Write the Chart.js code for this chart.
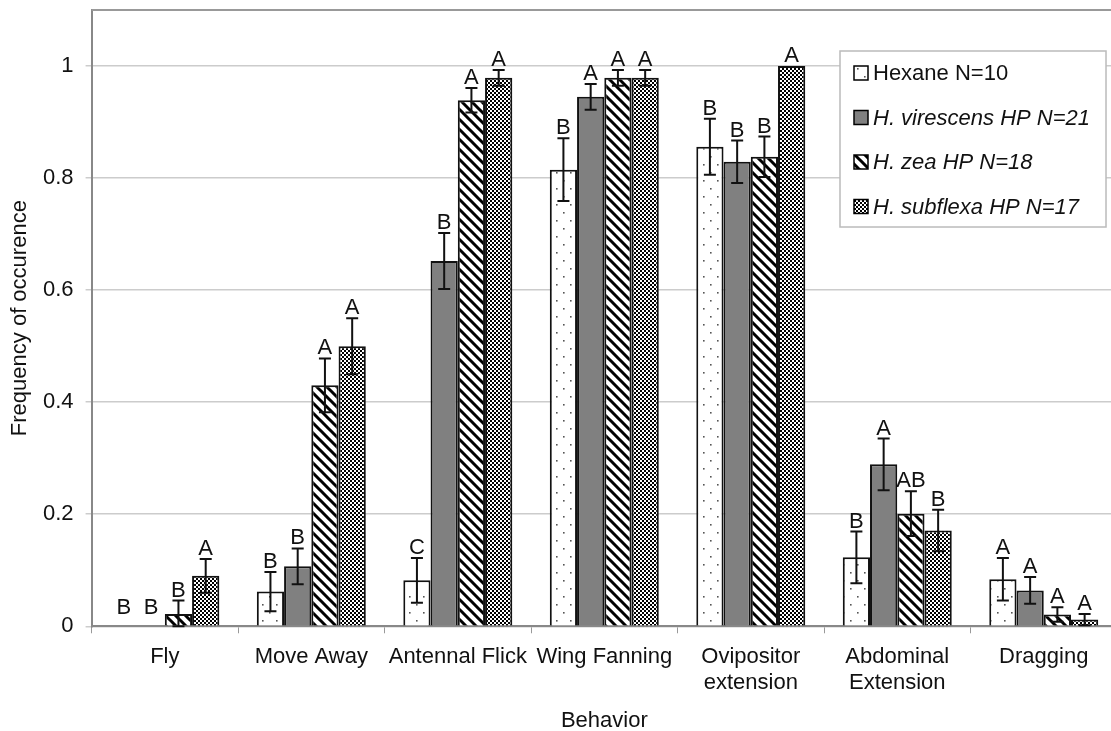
<!DOCTYPE html>
<html>
<head>
<meta charset="utf-8">
<script src="https://cdn.jsdelivr.net/npm/chart.js@4.4.1/dist/chart.umd.min.js"></script>
<style>
  html, body { margin: 0; padding: 0; background: #fff; overflow: hidden; width: 1111px; height: 731px; }
  #wrap { position: relative; width: 1120px; height: 734px; }
</style>
</head>
<body>
<div id="wrap"><canvas id="behaviorChart"></canvas></div>
<script>
// behaviour frequencies
const behaviors = ['Fly', 'Move Away', 'Antennal Flick', 'Wing Fanning', ['Ovipositor', 'extension'], ['Abdominal', 'Extension'], 'Dragging'];

const hexane = [0, 0.062, 0.082, 0.815, 0.856, 0.123, 0.084];
const hexaneErr = [0, 0.035, 0.04, 0.056, 0.05, 0.046, 0.038];
const hexaneLetters = ['B', 'B', 'C', 'B', 'B', 'B', 'A'];

const virescens = [0, 0.107, 0.652, 0.945, 0.829, 0.289, 0.064];
const virescensErr = [0, 0.032, 0.05, 0.023, 0.038, 0.046, 0.024];
const virescensLetters = ['B', 'B', 'B', 'A', 'B', 'A', 'A'];

const zea = [0.022, 0.43, 0.939, 0.979, 0.838, 0.201, 0.021];
const zeaErr = [0.024, 0.048, 0.022, 0.014, 0.036, 0.04, 0.013];
const zeaLetters = ['B', 'A', 'A', 'A', 'B', 'AB', 'A'];

const subflexa = [0.09, 0.5, 0.979, 0.979, 1.0, 0.171, 0.012];
const subflexaErr = [0.03, 0.05, 0.014, 0.014, 0, 0.037, 0.01];
const subflexaLetters = ['A', 'A', 'A', 'A', 'A', 'B', 'A'];

const seriesNames = ['Hexane N=10', 'H. virescens HP N=21', 'H. zea HP N=18', 'H. subflexa HP N=17'];
const seriesItalic = [false, true, true, true];

const FONT = "'Liberation Sans', Arial, sans-serif";

// fill patterns
function makePattern(kind) {
    const tile = document.createElement('canvas');
    const c = tile.getContext('2d');
    if (kind === 'dots') {
        tile.width = 14; tile.height = 16;
        c.fillStyle = '#fff'; c.fillRect(0, 0, 14, 16);
        c.fillStyle = '#555';
        c.fillRect(3, 4, 1.6, 1.6);
        c.fillRect(10, 12, 1.6, 1.6);
    } else if (kind === 'stripes') {
        tile.width = 10; tile.height = 10;
        c.fillStyle = '#fff'; c.fillRect(0, 0, 10, 10);
        c.strokeStyle = '#000'; c.lineWidth = 3;
        c.beginPath();
        c.moveTo(-5, -5); c.lineTo(15, 15);
        c.moveTo(-5, 5); c.lineTo(5, 15);
        c.moveTo(5, -5); c.lineTo(15, 5);
        c.stroke();
    } else {
        tile.width = 4; tile.height = 4;
        c.fillStyle = '#000'; c.fillRect(0, 0, 4, 4);
        c.fillStyle = '#fff';
        c.fillRect(0, 0, 2, 2);
        c.fillRect(2, 2, 2, 2);
    }
    return c.createPattern(tile, 'repeat');
}

const fills = [makePattern('dots'), '#808080', makePattern('stripes'), makePattern('checks')];
const errors = [hexaneErr, virescensErr, zeaErr, subflexaErr];
const letters = [hexaneLetters, virescensLetters, zeaLetters, subflexaLetters];

// error bars, significance letters, frame top and legend box
const extrasPlugin = {
    id: 'extras',
    afterDatasetsDraw(chart) {
        const ctx = chart.ctx;
        const y = chart.scales.y;
        const area = chart.chartArea;
        ctx.save();

        ctx.strokeStyle = '#999';
        ctx.lineWidth = 2;
        ctx.beginPath();
        ctx.moveTo(area.left, area.top);
        ctx.lineTo(area.right, area.top);
        ctx.stroke();

        chart.data.datasets.forEach((ds, di) => {
            const meta = chart.getDatasetMeta(di);
            meta.data.forEach((bar, i) => {
                const v = ds.data[i];
                const e = errors[di][i];
                let top = y.getPixelForValue(v);
                if (e > 0) {
                    const yt = y.getPixelForValue(v + e);
                    const yb = y.getPixelForValue(Math.max(0, v - e));
                    ctx.strokeStyle = '#111';
                    ctx.lineWidth = 2;
                    ctx.beginPath();
                    ctx.moveTo(bar.x, yt); ctx.lineTo(bar.x, yb);
                    ctx.moveTo(bar.x - 6, yt); ctx.lineTo(bar.x + 6, yt);
                    ctx.moveTo(bar.x - 6, yb); ctx.lineTo(bar.x + 6, yb);
                    ctx.stroke();
                    top = yt;
                }
                const base = Math.min(top - 4, y.getPixelForValue(0) - 12);
                ctx.fillStyle = '#111';
                ctx.font = '22px ' + FONT;
                ctx.textAlign = 'center';
                ctx.textBaseline = 'alphabetic';
                ctx.fillText(letters[di][i], bar.x, base);
            });
        });

        // legend
        const bx = 840, by = 51, bw = 266, bh = 176;
        ctx.fillStyle = '#fff';
        ctx.fillRect(bx, by, bw, bh);
        ctx.strokeStyle = '#bbb';
        ctx.lineWidth = 1.5;
        ctx.strokeRect(bx, by, bw, bh);
        seriesNames.forEach((name, i) => {
            const cy = 73 + i * 44.5;
            ctx.fillStyle = fills[i];
            ctx.fillRect(854, cy - 7, 14, 14);
            ctx.strokeStyle = '#000';
            ctx.lineWidth = 1.5;
            ctx.strokeRect(854, cy - 7, 14, 14);
            ctx.fillStyle = '#111';
            ctx.font = (seriesItalic[i] ? 'italic ' : '') + '22px ' + FONT;
            ctx.textAlign = 'left';
            ctx.textBaseline = 'middle';
            ctx.fillText(name, 873, cy + 1);
        });
        ctx.restore();
    }
};

const seriesData = [hexane, virescens, zea, subflexa];

new Chart(document.getElementById('behaviorChart'), {
    type: 'bar',
    data: {
        labels: behaviors,
        datasets: seriesData.map((d, i) => ({
            label: seriesNames[i],
            data: d,
            backgroundColor: fills[i],
            borderColor: '#111',
            borderWidth: ctx => (ctx.raw > 0 ? 2 : 0),
            categoryPercentage: 0.744,
            barPercentage: 1.0
        }))
    },
    options: {
        responsive: true,
        maintainAspectRatio: false,
        animation: false,
        layout: { padding: { top: 10, right: 3, left: 0, bottom: 0 } },
        plugins: {
            legend: { display: false },
            tooltip: { enabled: false }
        },
        scales: {
            x: {
                afterFit: s => { s.paddingLeft = 0; s.paddingRight = 0; },
                grid: { display: true, drawOnChartArea: false, color: '#999', tickLength: 7, offset: true },
                border: { color: '#888', width: 2 },
                ticks: { color: '#111', padding: 11, maxRotation: 0, autoSkip: false, font: { family: FONT, size: 22, lineHeight: 1.18 } },
                title: { display: true, text: 'Behavior', color: '#111', padding: { top: 1.5, bottom: 0 }, font: { family: FONT, size: 22, lineHeight: 1.15 } }
            },
            y: {
                min: 0,
                max: 1.1,
                afterBuildTicks: scale => {
                    scale.ticks = scale.ticks.filter(t => Math.abs(t.value * 5 - Math.round(t.value * 5)) < 1e-6);
                },
                afterFit: s => { s.paddingTop = 0; s.paddingBottom = 0; },
                grid: { color: '#ccc', lineWidth: 1.5, tickLength: 6 },
                border: { color: '#888', width: 2 },
                ticks: {
                    stepSize: 0.2,
                    color: '#111',
                    padding: 12,
                    font: { family: FONT, size: 22 },
                    callback: v => String(+Number(v).toFixed(1))
                },
                title: { display: true, text: 'Frequency of occurence', color: '#111', padding: { top: 9, bottom: 0 }, font: { family: FONT, size: 22, lineHeight: 1.0 } }
            }
        }
    },
    plugins: [extrasPlugin]
});
</script>
</body>
</html>
